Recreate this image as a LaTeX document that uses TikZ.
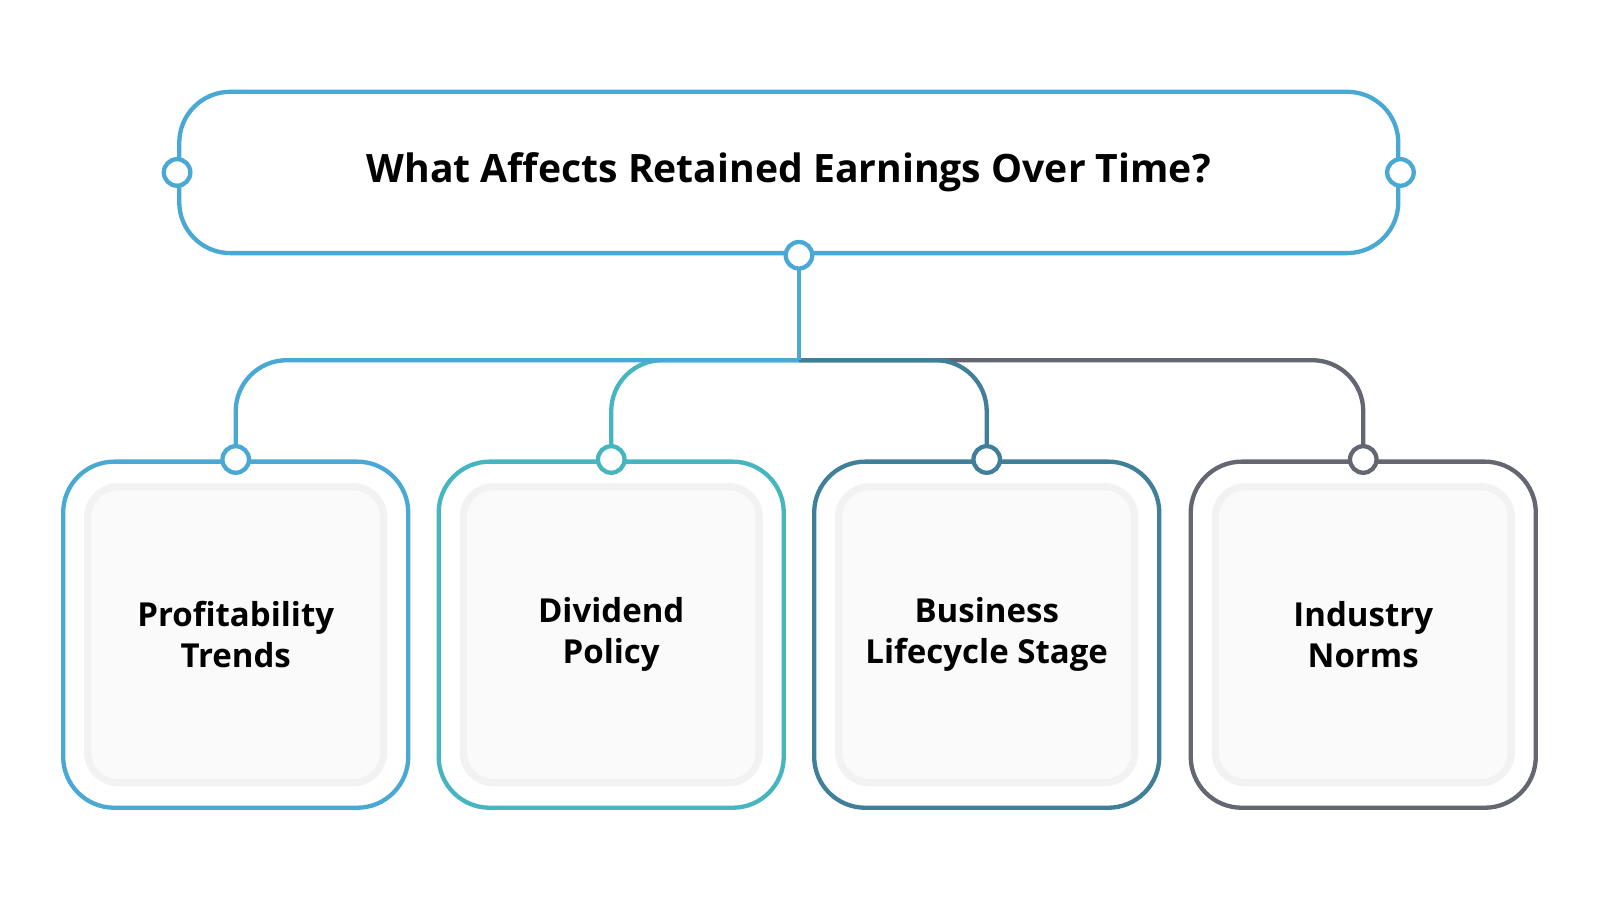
\documentclass[tikz,border=0pt]{standalone}
\usepackage{fontspec}
\setmainfont{Open Sans}
\usetikzlibrary{positioning}
\definecolor{cblue}{HTML}{4AA8D4}
\definecolor{cteal}{HTML}{45B5BF}
\definecolor{cdark}{HTML}{3F7F9A}
\definecolor{cgray}{HTML}{646672}
\tikzset{
    every node/.style={color=black, font=\bfseries},
}
\begin{document}
\begin{tikzpicture}[
        x=0.01cm, y=-0.01cm,
        line width=1.2pt,
        outer/.style={rectangle, draw, rounded corners=0.5cm, minimum width=3.38cm, minimum height=3.39cm, fill=white},
        inner/.style={rectangle, rounded corners=0.3cm, minimum width=2.9cm, minimum height=2.9cm, fill=black!2, draw=black!5, line width=2pt, font=\bfseries\fontsize{9.2}{11.4}\selectfont, align=center},
        pin/.style={circle, draw, fill=white, inner sep=0pt, minimum size=0.26cm, line width=1.2pt}
    ]
    \useasboundingbox (0,0) rectangle (1568,882);

    % Title
    \node[rectangle, draw=cblue, rounded corners=0.5cm, minimum width=11.94cm, minimum height=1.58cm,
          font=\bfseries\fontsize{10.9}{12}\selectfont] (title) at (773,169) {What Affects Retained Earnings Over Time?};
    \coordinate (hub) at (783,353);

    % Boxes
    \node[outer, draw=cblue] (box1) at (231,622) {};
    \node[outer, draw=cteal] (box2) at (599,622) {};
    \node[outer, draw=cdark] (box3) at (967,622) {};
    \node[outer, draw=cgray] (box4) at (1336,622) {};
    \node[inner] (txt1) at (box1) {Profitability\\Trends};
    \node[inner] (txt2) at (box2) {Dividend\\Policy};
    \node[inner] (txt3) at (box3) {Business\\Lifecycle Stage};
    \node[inner] (txt4) at (box4) {Industry\\Norms};

    % Connectors
    \draw[cgray, rounded corners=0.5cm] (hub) -| (box4.north);
    \draw[cdark, rounded corners=0.5cm] (hub) -| (box3.north);
    \draw[cteal, rounded corners=0.5cm] (hub) -| (box2.north);
    \draw[cblue, rounded corners=0.5cm] (hub) -| (box1.north);
    \draw[cblue] (title.south -| hub) -- (hub);

    % Pins
    \node[pin, draw=cblue] (pinl) at (title.west) {};
    \node[pin, draw=cblue] (pinr) at (title.east) {};
    \node[pin, draw=cblue] (pint) at (title.south -| hub) {};
    \node[pin, draw=cblue] (pin1) at (box1.north) {};
    \node[pin, draw=cteal] (pin2) at (box2.north) {};
    \node[pin, draw=cdark] (pin3) at (box3.north) {};
    \node[pin, draw=cgray] (pin4) at (box4.north) {};
\end{tikzpicture}
\end{document}
